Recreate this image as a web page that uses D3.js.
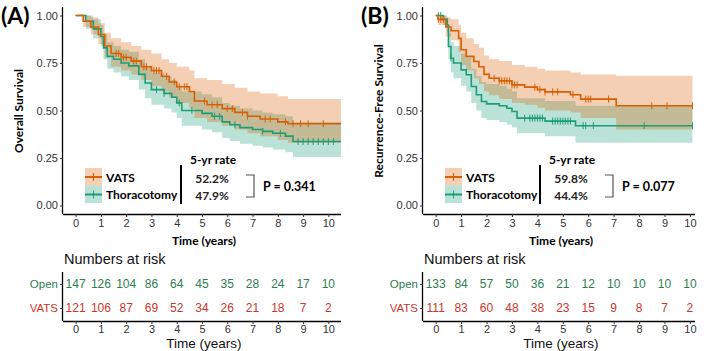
<!DOCTYPE html>
<meta charset="utf-8">
<script src="https://d3js.org/d3.v7.min.js"></script>
<style>
  body { margin: 0; background: #fff; }
  text { font-family: "Liberation Sans", Arial, sans-serif; }
  .bold { font-family: Lato, "Open Sans", sans-serif; font-weight: bold; }
</style>
<div id="chart"></div>
<script>
// ---- data ----
const years = [0, 1, 2, 3, 4, 5, 6, 7, 8, 9, 10];
const yTicks = [0, 0.25, 0.5, 0.75, 1];

// (A) overall survival, VATS
const aVatsT  = [0, 0.3, 0.6, 0.9, 1.15, 1.4, 1.8, 2.2, 2.6, 3.0, 3.4, 3.7, 4.0, 4.5, 4.7, 5.2, 5.8, 6.3, 6.8, 7.3, 8.0, 8.4, 10.5];
const aVatsS  = [1, 0.97, 0.94, 0.90, 0.84, 0.80, 0.78, 0.76, 0.73, 0.71, 0.68, 0.65, 0.625, 0.60, 0.55, 0.53, 0.51, 0.49, 0.47, 0.455, 0.44, 0.43, 0.43];
const aVatsUp = [1, 1.0, 0.99, 0.96, 0.91, 0.88, 0.86, 0.84, 0.82, 0.80, 0.77, 0.75, 0.73, 0.71, 0.67, 0.66, 0.64, 0.62, 0.60, 0.59, 0.575, 0.56, 0.56];
const aVatsLo = [1, 0.94, 0.90, 0.85, 0.78, 0.73, 0.71, 0.69, 0.66, 0.63, 0.60, 0.57, 0.54, 0.51, 0.46, 0.44, 0.42, 0.40, 0.38, 0.365, 0.345, 0.33, 0.33];
const aVatsCens = [1.6, 1.7, 1.9, 2.0, 2.3, 2.4, 2.7, 2.8, 3.1, 3.2, 3.3, 3.6, 3.9, 4.1, 4.3, 4.4, 5.1, 5.4, 5.6, 6.0, 6.2, 6.6, 6.8, 7.5, 7.7, 8.3, 8.6, 8.9, 9.2, 9.8];

// (A) overall survival, Thoracotomy
const aThorT  = [0, 0.4, 0.7, 1.0, 1.1, 1.25, 1.5, 1.8, 2.1, 2.5, 2.75, 3.0, 3.5, 3.8, 4.0, 4.2, 5.0, 5.4, 5.8, 6.1, 6.5, 7.0, 7.4, 7.8, 8.3, 8.6, 10.5];
const aThorS  = [1, 0.97, 0.93, 0.89, 0.83, 0.785, 0.77, 0.75, 0.735, 0.69, 0.645, 0.61, 0.59, 0.57, 0.54, 0.50, 0.485, 0.47, 0.44, 0.425, 0.41, 0.40, 0.39, 0.38, 0.365, 0.337, 0.337];
const aThorUp = [1, 1.0, 0.98, 0.95, 0.90, 0.86, 0.84, 0.82, 0.81, 0.77, 0.73, 0.70, 0.68, 0.66, 0.63, 0.60, 0.585, 0.57, 0.54, 0.525, 0.51, 0.50, 0.49, 0.48, 0.47, 0.44, 0.44];
const aThorLo = [1, 0.93, 0.88, 0.84, 0.77, 0.72, 0.70, 0.68, 0.66, 0.61, 0.565, 0.53, 0.51, 0.49, 0.46, 0.42, 0.40, 0.385, 0.355, 0.34, 0.325, 0.315, 0.305, 0.295, 0.28, 0.255, 0.255];
const aThorCens = [3.2, 3.5, 4.1, 4.6, 5.5, 5.7, 6.3, 7.4, 8.1, 8.8, 9.0, 9.2, 9.4, 9.6, 9.8, 10.0, 10.2];

// (B) recurrence-free survival, VATS
const bVatsT  = [0, 0.1, 0.4, 0.6, 0.9, 1.0, 1.2, 1.5, 1.7, 1.9, 2.1, 2.5, 3.0, 3.5, 4.0, 4.3, 5.3, 5.7, 7.1, 10.1];
const bVatsS  = [1, 0.98, 0.94, 0.92, 0.88, 0.82, 0.785, 0.758, 0.73, 0.69, 0.67, 0.656, 0.635, 0.623, 0.61, 0.598, 0.583, 0.56, 0.525, 0.525];
const bVatsUp = [1, 1.0, 0.99, 0.98, 0.95, 0.91, 0.88, 0.85, 0.83, 0.79, 0.77, 0.76, 0.74, 0.73, 0.72, 0.71, 0.70, 0.69, 0.683, 0.683];
const bVatsLo = [1, 0.95, 0.89, 0.87, 0.81, 0.74, 0.71, 0.67, 0.64, 0.60, 0.58, 0.56, 0.54, 0.53, 0.515, 0.50, 0.49, 0.46, 0.40, 0.40];
const bVatsCens = [0.1, 0.2, 0.3, 2.3, 2.5, 2.6, 2.7, 2.8, 2.9, 3.0, 3.1, 3.2, 3.9, 4.1, 4.3, 4.6, 4.8, 5.4, 5.9, 6.0, 6.1, 6.8, 8.5, 9.1, 10.1];

// (B) recurrence-free survival, Thoracotomy
const bThorT  = [0, 0.3, 0.45, 0.5, 0.6, 0.7, 1.0, 1.2, 1.4, 1.6, 1.8, 2.0, 2.5, 2.8, 3.0, 3.2, 4.3, 5.5, 10.1];
const bThorS  = [1, 0.98, 0.95, 0.837, 0.775, 0.75, 0.714, 0.688, 0.626, 0.583, 0.547, 0.535, 0.525, 0.512, 0.495, 0.46, 0.444, 0.42, 0.42];
const bThorUp = [1, 1.0, 0.99, 0.91, 0.86, 0.84, 0.80, 0.78, 0.72, 0.68, 0.65, 0.64, 0.63, 0.615, 0.60, 0.565, 0.55, 0.525, 0.525];
const bThorLo = [1, 0.95, 0.91, 0.77, 0.70, 0.67, 0.63, 0.60, 0.54, 0.50, 0.46, 0.45, 0.44, 0.425, 0.41, 0.38, 0.365, 0.33, 0.33];
const bThorCens = [0.1, 0.2, 0.6, 3.5, 3.7, 3.8, 3.9, 4.0, 4.1, 4.2, 4.6, 4.7, 4.8, 4.9, 5.0, 5.1, 5.2, 5.3, 5.8, 5.9, 6.2, 8.2, 10.1];

// numbers at risk
const aRiskOpen = [147, 126, 104, 86, 64, 45, 35, 28, 24, 17, 10];
const aRiskVats = [121, 106, 87, 69, 52, 34, 26, 21, 18, 7, 2];
const bRiskOpen = [133, 84, 57, 50, 36, 21, 12, 10, 10, 10, 10];
const bRiskVats = [111, 83, 60, 48, 38, 23, 15, 9, 8, 7, 2];

const legendNames = ["VATS", "Thoracotomy"];
const aRates = ["52.2%", "47.9%"], bRates = ["59.8%", "44.4%"];

const orange = "#D95F02", green = "#1B9E77";

const svg = d3.select("#chart").append("svg")
    .attr("width", 708).attr("height", 351);

function rows(T, S, U, L) {
  return T.map((t, i) => ({t: t, s: S[i], up: U[i], lo: L[i]}));
}

function drawPanel(p) {
  const x = d3.scaleLinear().domain(p.xDomain).range([p.x0, p.x1]);
  const y = d3.scaleLinear().domain([-0.045, 1.045]).range([214, 7]);
  const g = svg.append("g");

  const area = d3.area().curve(d3.curveStepAfter)
      .x(d => x(d.t)).y0(d => y(d.lo)).y1(d => y(d.up));
  const line = d3.line().curve(d3.curveStepAfter)
      .x(d => x(d.t)).y(d => y(d.s));

  // bands: thoracotomy first, VATS over it
  [p.thor, p.vats].forEach(sr => {
    g.append("path").datum(sr.data).attr("d", area)
      .attr("fill", sr.color).attr("fill-opacity", 0.3);
  });
  [p.thor, p.vats].forEach(sr => {
    g.append("path").datum(sr.data).attr("d", line)
      .attr("fill", "none").attr("stroke", sr.color).attr("stroke-width", 1.6);
    const stepAt = t => {
      let v = 1;
      sr.data.forEach(d => { if (d.t <= t) v = d.s; });
      return v;
    };
    g.selectAll(null).data(sr.cens).join("line")
      .attr("x1", d => x(d)).attr("x2", d => x(d))
      .attr("y1", d => y(stepAt(d)) - 3.5).attr("y2", d => y(stepAt(d)) + 3.5)
      .attr("stroke", sr.color).attr("stroke-width", 1);
  });

  // axes
  g.append("g").attr("transform", "translate(0,214)")
    .call(d3.axisBottom(x).tickValues(years).tickSize(3).tickPadding(2))
    .call(a => a.select(".domain").attr("d", `M${p.x0},0.5H${p.x1}`));
  g.append("g").attr("transform", `translate(${p.x0},0)`)
    .call(d3.axisLeft(y).tickValues(yTicks).tickFormat(d3.format(".2f")).tickSize(3).tickPadding(2))
    .call(a => a.select(".domain").attr("d", "M-0.5,7V214"));
  g.selectAll(".tick text").attr("font-size", 11).attr("fill", "#333")
    .attr("font-family", "Liberation Sans, Arial, sans-serif");
  g.selectAll(".tick line").attr("stroke", "#333");
  g.selectAll(".domain").attr("stroke", "#000").attr("stroke-width", 1.3);

  g.append("text").attr("class", "bold").attr("x", (p.x0 + p.x1) / 2 + 2).attr("y", 245)
    .attr("text-anchor", "middle").attr("font-size", 12).text("Time (years)");
  g.append("text").attr("class", "bold")
    .attr("transform", `translate(${p.x0 - 40},111) rotate(-90)`)
    .attr("text-anchor", "middle").attr("font-size", 12).text(p.yTitle);
  g.append("text").attr("class", "bold").attr("x", p.labelX).attr("y", 24)
    .attr("font-size", 23).text(p.label);

  // legend
  const lx = p.legX;
  [p.vats, p.thor].forEach((sr, i) => {
    const yy = 168 + i * 17.5;
    g.append("rect").attr("x", lx).attr("y", yy).attr("width", 17).attr("height", 17.5)
      .attr("fill", sr.color).attr("fill-opacity", 0.3);
    g.append("line").attr("x1", lx).attr("x2", lx + 17).attr("y1", yy + 9).attr("y2", yy + 9)
      .attr("stroke", sr.color).attr("stroke-width", 2);
    g.append("line").attr("x1", lx + 8.5).attr("x2", lx + 8.5).attr("y1", yy + 5).attr("y2", yy + 13)
      .attr("stroke", sr.color).attr("stroke-width", 1);
    g.append("text").attr("class", "bold").attr("x", lx + 21).attr("y", yy + 13.5)
      .attr("font-size", 12).text(legendNames[i]);
  });
  const bx = p.barX;
  g.append("line").attr("x1", bx).attr("x2", bx).attr("y1", 165).attr("y2", 204)
    .attr("stroke", "#000").attr("stroke-width", 2);
  g.append("text").attr("class", "bold").attr("x", bx + 32).attr("y", 164)
    .attr("text-anchor", "middle").attr("font-size", 12).text("5-yr rate");
  p.rates.forEach((r, i) => {
    g.append("text").attr("class", "bold").attr("x", bx + 31).attr("y", 183 + i * 17)
      .attr("text-anchor", "middle").attr("font-size", 12).attr("fill", "#222").text(r);
  });
  g.append("path").attr("d", `M${bx + 65},175H${bx + 73}V197H${bx + 65}`)
    .attr("fill", "none").attr("stroke", "#555").attr("stroke-width", 1.2);
  g.append("text").attr("class", "bold").attr("x", bx + 82).attr("y", 190.5)
    .attr("font-size", 12.5).text(p.pval);

  // risk table
  const r = svg.append("g");
  const ry = d3.scalePoint().domain(["Open", "VATS"]).range([284, 308]);
  r.append("text").attr("x", p.x0 + 1).attr("y", 264).attr("font-size", 14.5)
    .attr("fill", "#111").text("Numbers at risk");
  r.append("g").attr("transform", "translate(0,321)")
    .call(d3.axisBottom(x).tickValues(years).tickSize(3).tickPadding(1))
    .call(a => a.select(".domain").attr("d", `M${p.x0},0.5H${p.x1}`));
  r.append("g").attr("transform", `translate(${p.x0},0)`)
    .call(d3.axisLeft(ry).tickSize(3).tickPadding(2))
    .call(a => a.select(".domain").attr("d", "M-0.5,272V321"));
  r.selectAll(".tick text").attr("font-size", 11).attr("fill", "#333")
    .attr("font-family", "Liberation Sans, Arial, sans-serif");
  r.selectAll(".tick line").attr("stroke", "#333");
  r.selectAll(".domain").attr("stroke", "#000").attr("stroke-width", 1.3);
  r.selectAll(".tick text").filter(d => d === "Open").attr("fill", "#2E7D4F").attr("font-size", 11.5);
  r.selectAll(".tick text").filter(d => d === "VATS").attr("fill", "#C8372D").attr("font-size", 11.5);
  [["Open", p.riskOpen, "#2E7D4F"], ["VATS", p.riskVats, "#C8372D"]].forEach(([k, vals, c]) => {
    r.selectAll(null).data(vals).join("text")
      .attr("x", (d, i) => x(years[i])).attr("y", ry(k)).attr("dy", "0.35em")
      .attr("text-anchor", "middle").attr("font-size", 12).attr("fill", c).text(d => d);
  });
  r.append("text").attr("x", (p.x0 + p.x1) / 2 + 2).attr("y", 348)
    .attr("text-anchor", "middle").attr("font-size", 13.5).attr("fill", "#111").text("Time (years)");
}

drawPanel({
  x0: 63, x1: 341, xDomain: [-0.5, 10.5], label: "(A)", labelX: 1,
  yTitle: "Overall Survival", legX: 85, barX: 181, rates: aRates, pval: "P = 0.341",
  vats: {color: orange, data: rows(aVatsT, aVatsS, aVatsUp, aVatsLo), cens: aVatsCens},
  thor: {color: green, data: rows(aThorT, aThorS, aThorUp, aThorLo), cens: aThorCens},
  riskOpen: aRiskOpen, riskVats: aRiskVats
});
drawPanel({
  x0: 423, x1: 695, xDomain: [-0.5, 10.2], label: "(B)", labelX: 361,
  yTitle: "Recurrence-Free Survival", legX: 445, barX: 540, rates: bRates, pval: "P = 0.077",
  vats: {color: orange, data: rows(bVatsT, bVatsS, bVatsUp, bVatsLo), cens: bVatsCens},
  thor: {color: green, data: rows(bThorT, bThorS, bThorUp, bThorLo), cens: bThorCens},
  riskOpen: bRiskOpen, riskVats: bRiskVats
});
</script>
